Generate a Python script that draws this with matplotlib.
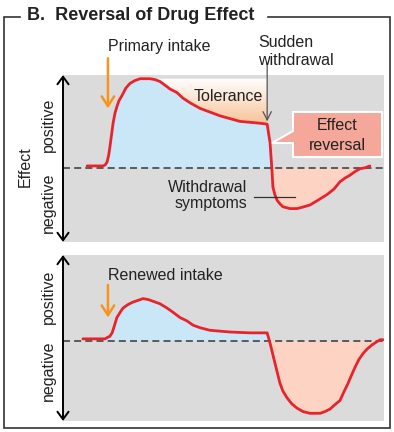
import numpy as np
import matplotlib
matplotlib.use("Agg")
import matplotlib.pyplot as plt
from matplotlib.colors import LinearSegmentedColormap
from matplotlib.patches import Polygon

plt.rcParams['font.family'] = ['Liberation Sans', 'DejaVu Sans']

# time axis (arbitrary units) and effect for the first exposure
t_first = np.array([7.5, 12.5, 13.1, 13.7, 14.2, 14.6, 15.1, 15.6, 16.2, 16.8,
                    17.4, 18.4, 19.6, 20.9, 22.4, 24.0, 25.5, 27.1, 28.7, 30.2,
                    31.8, 33.3, 35.5, 37.4, 39.6, 42.7, 45.8, 48.9, 52.0, 55.1,
                    58.3, 61.4, 63.6, 64.5, 64.8, 65.1, 65.4, 66.0, 66.7, 67.6,
                    68.5, 70.7, 72.9, 75.1, 77.0, 79.4, 82.2, 84.4, 86.3, 87.9,
                    89.4, 91.0, 92.5, 94.1, 95.6])
e_first = np.array([0.02, 0.02, 0.03, 0.06, 0.13, 0.22, 0.35, 0.48, 0.59, 0.66,
                    0.72, 0.78, 0.86, 0.91, 0.94, 0.96, 0.96, 0.96, 0.95, 0.93,
                    0.89, 0.85, 0.81, 0.75, 0.70, 0.64, 0.60, 0.56, 0.53, 0.50,
                    0.49, 0.48, 0.47, 0.27, 0.12, -0.03, -0.21, -0.29, -0.35, -0.39,
                    -0.42, -0.44, -0.44, -0.42, -0.40, -0.35, -0.29, -0.23, -0.15, -0.11,
                    -0.08, -0.04, -0.01, 0.00, 0.02])

# renewed intake after the withdrawal phase
t_renew = np.array([6.2, 13.1, 14.0, 14.6, 15.3, 15.9, 16.8, 17.8, 18.7, 20.2,
                    21.8, 23.4, 24.9, 26.5, 28.0, 30.2, 32.4, 34.3, 36.4, 38.6,
                    40.5, 42.7, 45.8, 48.9, 52.0, 58.3, 63.6, 64.5, 66.0, 67.6,
                    68.5, 69.8, 71.3, 72.9, 74.8, 76.9, 78.5, 80.1, 81.6, 83.2,
                    84.7, 86.3, 87.5, 88.8, 89.7, 91.0, 92.2, 93.5, 94.7, 96.3,
                    97.5, 98.8, 99.7])
e_renew = np.array([0.02, 0.02, 0.04, 0.05, 0.09, 0.16, 0.27, 0.33, 0.38, 0.42,
                    0.45, 0.47, 0.49, 0.48, 0.46, 0.43, 0.38, 0.33, 0.27, 0.23,
                    0.18, 0.15, 0.12, 0.11, 0.10, 0.09, 0.09, -0.03, -0.26, -0.50,
                    -0.59, -0.67, -0.74, -0.79, -0.83, -0.85, -0.85, -0.85, -0.83, -0.80,
                    -0.75, -0.70, -0.60, -0.50, -0.42, -0.31, -0.22, -0.15, -0.10, -0.05,
                    -0.02, 0.01, 0.01])

intake_time = 14.0
withdrawal_time = 63.6

W, H = 394, 432
GRAY = '#dbdbdc'
RED = '#e8232b'
BLUE = '#c9e7f7'
SALMON = '#fdd4c3'
ORANGE = '#f7941d'
TXT = '#222222'
FS = 11.5


def panel(rect_px, ylim):
    x0, y0, x1, y1 = rect_px
    ax = fig.add_axes([x0 / W, 1 - y1 / H, (x1 - x0) / W, (y1 - y0) / H])
    ax.set_facecolor(GRAY)
    for s in ax.spines.values():
        s.set_visible(False)
    ax.set_xticks([])
    ax.set_yticks([])
    ax.set_xlim(0, 100)
    ax.set_ylim(*ylim)
    ax.axhline(0, color='#444444', lw=1.2, dashes=(4.2, 2.5), zorder=3)
    ax.annotate('', xy=(0, ylim[1]), xytext=(0, ylim[0]), annotation_clip=False,
                arrowprops=dict(arrowstyle='<->,head_length=0.55,head_width=0.4',
                                color='black', lw=1.4, shrinkA=0, shrinkB=0))
    return ax


def draw_curve(ax, t, e):
    ax.fill_between(t, e, 0, where=e > 0.025, interpolate=True, color=BLUE, lw=0, zorder=1)
    ax.fill_between(t, e, 0, where=e < 0, interpolate=True, color=SALMON, lw=0, zorder=1)
    ax.plot(t, e, color=RED, lw=2, solid_joinstyle='round', solid_capstyle='round', zorder=4)


def intake_arrow(ax, t, e_tail, e_tip):
    ax.annotate('', xy=(t, e_tip), xytext=(t, e_tail), annotation_clip=False,
                arrowprops=dict(arrowstyle='->,head_length=0.7,head_width=0.45',
                                color=ORANGE, lw=1.8, shrinkA=0, shrinkB=0))


fig = plt.figure(figsize=(W / 100, H / 100), dpi=100)

# upper panel: first intake, tolerance and withdrawal
ax1 = panel((63, 75, 384, 242), (-0.80, 1.0))
draw_curve(ax1, t_first, e_first)

# tolerance band: white-to-peach gradient between the peak level and the declining curve
i_peak = int(np.argmax(e_first))
i_drop = int(np.flatnonzero(np.isclose(t_first, withdrawal_time))[0])
tt = t_first[i_peak:i_drop + 1]
ee = e_first[i_peak:i_drop + 1]
peak = e_first[i_peak]
band = ax1.fill_between(tt, ee, peak, color='none', lw=0)
tol_cmap = LinearSegmentedColormap.from_list('tol', ['#ffffff', '#f8c398'])
grad = np.linspace(0, 1, 256).reshape(-1, 1)
im = ax1.imshow(grad, extent=[tt[0], tt[-1], ee.min(), peak], aspect='auto',
                cmap=tol_cmap, origin='upper', zorder=1)
im.set_clip_path(band.get_paths()[0], transform=ax1.transData)
ax1.set_xlim(0, 100)
ax1.set_ylim(-0.80, 1.0)

intake_arrow(ax1, intake_time, 1.18, 0.64)
ax1.annotate('', xy=(withdrawal_time, 0.50), xytext=(withdrawal_time, 1.13),
             annotation_clip=False,
             arrowprops=dict(arrowstyle='->,head_length=0.6,head_width=0.3',
                             color='#555555', lw=0.9, shrinkA=0, shrinkB=0))

# lower panel: renewed intake
ax2 = panel((63, 255, 384, 421), (-0.94, 1.0))
draw_curve(ax2, t_renew, e_renew)
intake_arrow(ax2, intake_time, 0.65, 0.27)

# overlay in pixel coordinates for frame, title and labels
ax0 = fig.add_axes([0, 0, 1, 1])
ax0.set_xlim(0, W)
ax0.set_ylim(H, 0)
ax0.axis('off')

fc = '#333333'
ax0.plot([20, 4.5, 4.5, 390, 390, 268], [17, 17, 428, 428, 17, 17], color=fc, lw=1.2,
         solid_joinstyle='miter')
ax0.text(27, 15, 'B.  Reversal of Drug Effect', va='center', ha='left', fontsize=13,
         fontweight='bold', color=TXT)

ax0.text(108, 51, 'Primary intake', fontsize=FS, color=TXT, va='baseline')
ax0.text(258, 47, 'Sudden', fontsize=FS, color=TXT, va='baseline')
ax0.text(258, 65, 'withdrawal', fontsize=FS, color=TXT, va='baseline')
ax0.text(194, 101, 'Tolerance', fontsize=FS, color=TXT, va='baseline')

callout = Polygon([(293, 112), (382, 112), (382, 157), (293, 157), (293, 143),
                   (272, 143), (293, 131)], closed=True, facecolor='#f5a799',
                  edgecolor='white', lw=1.5, joinstyle='miter')
ax0.add_patch(callout)
ax0.text(337, 130, 'Effect', fontsize=FS, color=TXT, va='baseline', ha='center')
ax0.text(337, 150, 'reversal', fontsize=FS, color=TXT, va='baseline', ha='center')

ax0.text(208, 192, 'Withdrawal', fontsize=FS, color=TXT, va='baseline', ha='center')
ax0.text(211, 208, 'symptoms', fontsize=FS, color=TXT, va='baseline', ha='center')
ax0.plot([254, 295], [197, 197], color=fc, lw=0.9)

ax0.text(108, 280, 'Renewed intake', fontsize=FS, color=TXT, va='baseline')

ax0.text(25, 167, 'Effect', fontsize=FS, color=TXT, rotation=90, ha='center', va='center')
ax0.text(48, 125, 'positive', fontsize=FS, color=TXT, rotation=90, ha='center', va='center')
ax0.text(48, 203, 'negative', fontsize=FS, color=TXT, rotation=90, ha='center', va='center')
ax0.text(48, 297, 'positive', fontsize=FS, color=TXT, rotation=90, ha='center', va='center')
ax0.text(48, 371, 'negative', fontsize=FS, color=TXT, rotation=90, ha='center', va='center')

fig.savefig('out.png', dpi=100)
